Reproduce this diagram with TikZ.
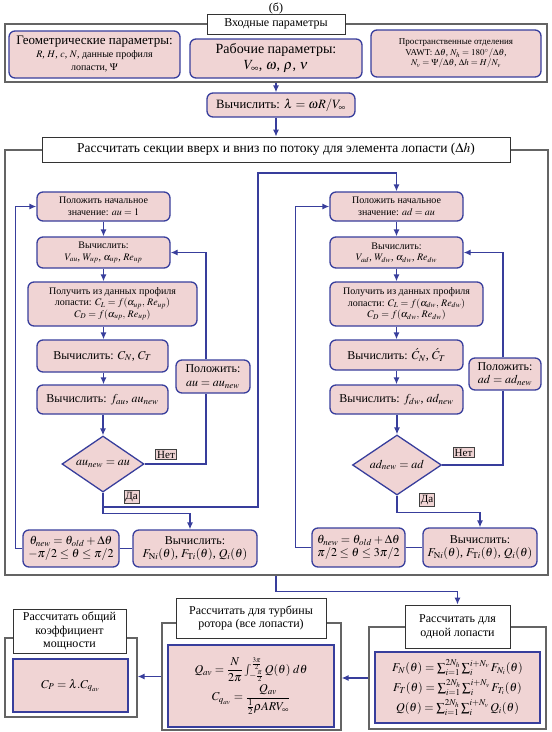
\documentclass[tikz,border=0pt]{standalone}
\usepackage{amsmath}
\usepackage{mathptmx}
\usepackage{fontspec}
\setmainfont{Liberation Serif}
\usepackage{tikz}
\usetikzlibrary{arrows.meta,shapes.geometric}

\definecolor{boxpink}{RGB}{240,212,212}
\definecolor{boxblue}{RGB}{56,62,156}
\definecolor{framegray}{RGB}{100,100,100}

\begin{document}
\begin{tikzpicture}[x=1pt, y=-1pt, >=Latex, font=\fontsize{12}{13.5}\selectfont,
  block/.style={draw=boxblue, fill=boxpink, line width=1.3pt, rounded corners=6pt, align=center, inner sep=1pt},
  small/.style={font=\fontsize{10}{11.5}\selectfont},
  tiny/.style={font=\fontsize{9}{10.5}\selectfont},
  decision/.style={diamond, aspect=1.5, draw=boxblue, fill=boxpink, line width=1.3pt, inner sep=0pt},
  answer/.style={draw=black!75, fill=boxpink, line width=0.6pt, inner sep=1.5pt, font=\fontsize{11}{12}\selectfont},
  legend/.style={draw=black!80, fill=white, line width=0.8pt, align=center, inner sep=1pt},
  frame/.style={draw=framegray, line width=1.2pt, inner sep=0pt},
  result/.style={draw=boxblue, fill=boxpink, line width=1.3pt, align=center, inner sep=1pt},
  flow/.style={draw=boxblue, line width=1.3pt, -{Latex[length=7pt,width=6pt]}},
  link/.style={draw=boxblue, line width=1.3pt}]

  \useasboundingbox (0,0) rectangle (552,732);

  % Input parameters
  \node (caption) at (276,8) {(б)};
  \node[frame, minimum width=542, minimum height=58] (inputs) at (276,53) {};
  \node[legend, minimum width=138, minimum height=20] (intitle) at (276,24) {Входные параметры};
  \node[block, minimum width=171, minimum height=47, font=\fontsize{13}{14}\selectfont] (geo) at (94.5,54.5)
    {Геометрические параметры:\\[-1pt] {\fontsize{10}{11.5}\selectfont $R$, $H$, $c$, $N$, данные профиля}\\[-1pt] {\fontsize{10}{11.5}\selectfont лопасти, $\Psi$}};
  \node[block, minimum width=172, minimum height=39, font=\fontsize{14}{16}\selectfont] (work) at (276,58.5)
    {Рабочие параметры:\\ $V_{\infty}$, $\omega$, $\rho$, $\nu$};
  \node[block, tiny, minimum width=170, minimum height=47] (space) at (456,53.5)
    {Пространственные отделения\\ VAWT: $\Delta\theta$, $N_h = 180^{\circ}/\Delta\theta$,\\ $N_v = \Psi/\Delta\theta$, $\Delta h = H/N_v$};

  \node[block, minimum width=148, minimum height=24, font=\fontsize{12.7}{14}\selectfont] (lam) at (281,105) {Вычислить: $\lambda = \omega R/V_{\infty}$};
  \draw[flow] (inputs.south) -- (inputs.south |- lam.north);

  % Up- and downstream sections
  \node[frame, minimum width=543, minimum height=425] (calc) at (276.5,362.5) {};
  \node[legend, minimum width=468, minimum height=25, font=\fontsize{13.5}{15}\selectfont] (calctitle) at (276,149.5)
    {Рассчитать секции вверх и вниз по потоку для элемента лопасти ($\Delta h$)};
  \draw[flow] (lam.south -| inputs.south) -- (calctitle.north -| inputs.south);

  % Upstream loop
  \node[block, small, minimum width=133, minimum height=29] (uinit) at (103.5,206.5) {Положить начальное\\ значение: $au = 1$};
  \node[block, small, minimum width=133, minimum height=31] (uvel) at (103.5,252.5) {Вычислить:\\ $V_{au}$, $W_{up}$, $\alpha_{up}$, $Re_{up}$};
  \node[block, small, minimum width=169, minimum height=44] (ucoef) at (112.5,304)
    {Получить из данных профиля\\ лопасти: $C_L = f(\alpha_{up},\, Re_{up})$\\ $C_D = f(\alpha_{up},\, Re_{up})$};
  \node[block, minimum width=131, minimum height=32] (ucn) at (102.5,356) {Вычислить: $C_N$, $C_T$};
  \node[block, minimum width=131, minimum height=29] (uf) at (102.5,399.5) {Вычислить: $f_{au}$, $au_{new}$};
  \node[decision, minimum width=82, minimum height=56] (udia) at (103,464) {$au_{new} = au$};
  \node[answer] (uno) at (166,454.5) {Нет};
  \node[answer] (uyes) at (131.5,497) {Да};
  \node[block, minimum width=74, minimum height=33] (uset) at (213,376.5) {Положить:\\ $au = au_{new}$};
  \node[block, minimum width=124, minimum height=37] (uforce) at (195,548.5)
    {Вычислить:\\ $F_{\mathrm{N}i}(\theta)$, $F_{\mathrm{T}i}(\theta)$, $Q_i(\theta)$};
  \node[block, minimum width=96, minimum height=37] (utheta) at (71,548.5)
    {$\theta_{new} = \theta_{old} + \Delta\theta$\\ $-\pi/2 \le \theta \le \pi/2$};

  \draw[flow] (uinit) -- (uvel);
  \draw[flow] (uvel.south) -- (uvel.south |- ucoef.north);
  \draw[flow] (ucoef.south -| uvel.south) -- (ucn.north -| uvel.south);
  \draw[flow] (ucn.south -| uvel.south) -- (uf.north -| uvel.south);
  \draw[flow] (uf.south -| udia.north) -- (udia.north);
  \draw[link] (udia.east) -| ([xshift=-7pt]uset.south);
  \draw[flow] ([xshift=-7pt]uset.north) |- (uvel.east);
  \draw[flow] (udia.south) -- ++(0,21) -| ([xshift=-5pt]uforce.north);
  \draw[link] (utheta) -- (uforce);
  \draw[flow] (utheta.west) -- ++(-7,0) |- (uinit.west);

  % Downstream loop
  \node[block, small, minimum width=133, minimum height=29] (dinit) at (396.5,206.5) {Положить начальное\\ значение: $ad = au$};
  \node[block, small, minimum width=133, minimum height=31] (dvel) at (396.5,252.5) {Вычислить:\\ $V_{ad}$, $W_{dw}$, $\alpha_{dw}$, $Re_{dw}$};
  \node[block, small, minimum width=153, minimum height=44] (dcoef) at (406.5,304)
    {Получить из данных профиля\\ лопасти: $C_L = f(\alpha_{dw},\, Re_{dw})$\\ $C_D = f(\alpha_{dw},\, Re_{dw})$};
  \node[block, minimum width=133, minimum height=30] (dcn) at (396.5,355) {Вычислить: $\acute{C}_N$, $\acute{C}_T$};
  \node[block, minimum width=133, minimum height=29] (df) at (396.5,399.5) {Вычислить: $f_{dw}$, $ad_{new}$};
  \node[decision, minimum width=89, minimum height=60] (ddia) at (397,465) {$ad_{new} = ad$};
  \node[answer] (dno) at (463.5,452.5) {Нет};
  \node[answer] (dyes) at (427,500) {Да};
  \node[block, minimum width=72, minimum height=32] (dset) at (505,374) {Положить:\\ $ad = ad_{new}$};
  \node[block, minimum width=114, minimum height=39] (dforce) at (480,547.5)
    {Вычислить:\\ $F_{\mathrm{N}i}(\theta)$, $F_{\mathrm{T}i}(\theta)$, $Q_i(\theta)$};
  \node[block, minimum width=93, minimum height=39] (dtheta) at (358.5,547.5)
    {$\theta_{new} = \theta_{old} + \Delta\theta$\\ $\pi/2 \le \theta \le 3\pi/2$};

  \draw[flow] (dinit) -- (dvel);
  \draw[flow] (dvel.south) -- (dvel.south |- dcoef.north);
  \draw[flow] (dcoef.south -| dvel.south) -- (dcn.north -| dvel.south);
  \draw[flow] (dcn) -- (df);
  \draw[flow] (df.south -| ddia.north) -- (ddia.north);
  \draw[link] (ddia.east) -| ([xshift=-2pt]dset.south);
  \draw[flow] ([xshift=-2pt]dset.north) |- (dvel.east);
  \draw[flow] (ddia.south) -- ++(0,17) -| (dforce.north);
  \draw[link] (dtheta) -- (dforce);
  \draw[flow] (dtheta.west) -- ++(-16,0) |- (dinit.west);

  % From upstream "yes" over to the downstream start
  \draw[flow] (udia.south) |- (258,507) -- (258,173) -| (dinit.north);

  % Results
  \node[frame, minimum width=177, minimum height=102] (single) at (457.5,678) {};
  \node[legend, minimum width=105, minimum height=43] (singtitle) at (457.5,626.5) {Рассчитать для\\ одной лопасти};
  \node[result, minimum width=165, minimum height=71] (singbox) at (457.5,687.5)
    {$F_N(\theta) = \sum_{i=1}^{2N_h}\sum_{i}^{i+N_v} F_{N_i}(\theta)$\\[3pt]
     $F_T(\theta) = \sum_{i=1}^{2N_h}\sum_{i}^{i+N_v} F_{T_i}(\theta)$\\[3pt]
     $Q(\theta) = \sum_{i=1}^{2N_h}\sum_{i}^{i+N_v} Q_i(\theta)$};

  \node[frame, minimum width=179, minimum height=107] (rotor) at (251.5,676.5) {};
  \node[legend, minimum width=150, minimum height=40] (rotortitle) at (251,618) {Рассчитать для турбины\\ ротора (все лопасти)};
  \node[result, minimum width=166, minimum height=82] (rotorbox) at (251,686)
    {$Q_{av} = \dfrac{N}{2\pi}\int_{-\frac{\pi}{2}}^{\frac{3\pi}{2}} Q(\theta)\; d\theta$\\[2pt]
     $C_{q_{av}} = \dfrac{Q_{av}}{\frac{1}{2}\rho A R V_{\infty}}$};

  \node[frame, minimum width=132, minimum height=79] (power) at (71,677.5) {};
  \node[legend, minimum width=113, minimum height=44] (powertitle) at (69.5,631) {Рассчитать общий\\ коэффициент\\ мощности};
  \node[result, minimum width=115, minimum height=53] (powerbox) at (70.5,685.5) {$C_P = \lambda.C_{q_{av}}$};

  \draw[flow] (calc.south -| inputs.south) -- ++(0,16) -| (singtitle.north);
  \draw[flow] (single.west) -- (single.west -| rotor.east);
  \draw[flow] (rotor.west) -- (rotor.west -| power.east);
\end{tikzpicture}
\end{document}
